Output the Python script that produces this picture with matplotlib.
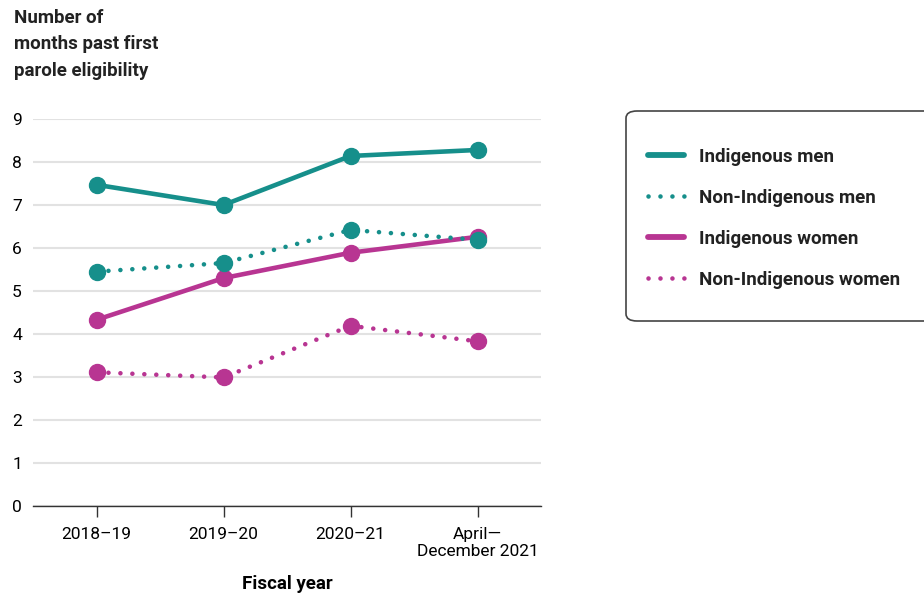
import matplotlib.pyplot as plt
from matplotlib.patches import FancyBboxPatch
from matplotlib.lines import Line2D

plt.rcParams["font.family"] = ["Roboto", "DejaVu Sans"]
plt.rcParams["text.color"] = "#222222"

# data
periods = ["2018\u201319", "2019\u201320", "2020\u201321", "April\u2014\nDecember 2021"]
indigenous_men = [7.47, 7.0, 8.14, 8.28]
non_indigenous_men = [5.45, 5.65, 6.42, 6.19]
indigenous_women = [4.33, 5.30, 5.89, 6.26]
non_indigenous_women = [3.11, 2.99, 4.19, 3.83]

teal = "#168f8b"
magenta = "#b83592"
dots = (0, (0.01, 2.6))

fig = plt.figure(figsize=(9.24, 5.94), dpi=100)
ax = fig.add_axes([33 / 924, 88 / 594, 508 / 924, 387 / 594])

x = list(range(len(periods)))
series = [
    (indigenous_women, magenta, "-", 3),
    (non_indigenous_women, magenta, dots, 3),
    (indigenous_men, teal, "-", 4),
    (non_indigenous_men, teal, dots, 5),
]
for vals, color, ls, z in series:
    ax.plot(x, vals, color=color, linestyle=ls, linewidth=3.3, marker="o",
            markersize=11.5, dash_capstyle="round", solid_capstyle="round",
            clip_on=False, zorder=z)

ax.set_xlim(-0.5, 3.5)
ax.set_ylim(0, 9)
ax.set_yticks(range(10))
ax.set_xticks(x)
ax.set_xticklabels(periods, fontsize=12.5)
ax.tick_params(axis="y", length=0, labelsize=12.5, pad=8)
ax.tick_params(axis="x", length=8, width=1, color="#333333", pad=7)
ax.grid(axis="y", color="#e2e2e2", linewidth=1.5)
ax.set_axisbelow(True)
for side in ["top", "right", "left"]:
    ax.spines[side].set_visible(False)
ax.spines["bottom"].set_color("#333333")
ax.spines["bottom"].set_linewidth(1)
ax.spines["bottom"].set_zorder(2)

ax.set_xlabel("Fiscal year", fontsize=13.5, fontweight="bold", labelpad=11)
fig.text(14 / 924, 1 - 9 / 594, "Number of\nmonths past first\nparole eligibility",
         fontsize=13.5, fontweight="bold", va="top", ha="left", linespacing=1.6)

# legend box
box = FancyBboxPatch((626 / 924, 1 - 321 / 594), 310 / 924, 210 / 594,
                     boxstyle="round,pad=0,rounding_size=0.012",
                     transform=fig.transFigure, facecolor="white",
                     edgecolor="#444444", linewidth=1.2, clip_on=False)
fig.patches.append(box)

handles = [
    Line2D([], [], color=teal, linewidth=4.2, solid_capstyle="round"),
    Line2D([], [], color=teal, linewidth=3.3, linestyle=dots, dash_capstyle="round"),
    Line2D([], [], color=magenta, linewidth=4.2, solid_capstyle="round"),
    Line2D([], [], color=magenta, linewidth=3.3, linestyle=dots, dash_capstyle="round"),
]
labels = ["Indigenous men", "Non-Indigenous men", "Indigenous women", "Non-Indigenous women"]
leg = fig.legend(handles, labels, loc="upper left", bbox_to_anchor=(648 / 924, 1 - 148 / 594),
                 frameon=False, handlelength=1.9, handletextpad=0.8, labelspacing=1.22,
                 borderaxespad=0, borderpad=0, prop={"weight": "bold", "size": 13.5})

fig.savefig("out.png", dpi=100)
